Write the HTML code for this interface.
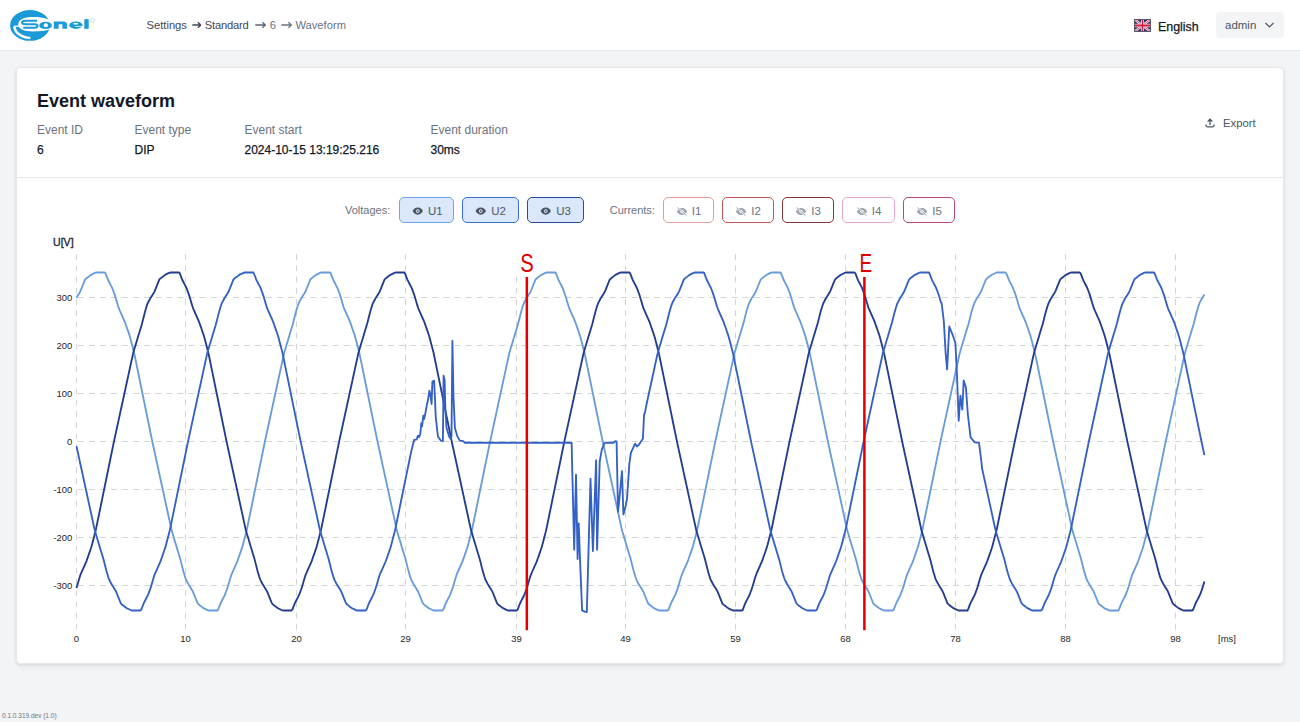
<!DOCTYPE html>
<html><head><meta charset="utf-8"><title>Event waveform</title>
<style>
*{box-sizing:border-box;margin:0;padding:0}
html,body{width:1300px;height:722px;overflow:hidden;background:#f3f4f6;font-family:"Liberation Sans",sans-serif;position:relative}
.a{position:absolute;white-space:nowrap;line-height:1}
#hdr{position:absolute;left:0;top:0;width:1300px;height:51px;background:#fff;border-bottom:1px solid #e5e7eb}
#card{position:absolute;left:16px;top:67px;width:1268px;height:597px;background:#fff;border:1px solid #e5e7eb;border-radius:4px;box-shadow:0 1px 3px rgba(0,0,0,.10),0 3px 6px rgba(0,0,0,.04)}
#sep{position:absolute;left:17px;top:177px;width:1266px;height:1px;background:#e5e7eb}
.bc{font-size:11.5px;color:#4b5563}
.bc .l{color:#6b7280}
.lbl{font-size:12px;color:#6b7280}
.val{font-size:12px;color:#111827;-webkit-text-stroke:0.25px #111827}
.btn{position:absolute;top:197px;height:26px;border-radius:5px;border:1px solid;font-size:11.5px;display:flex;align-items:center;justify-content:center;gap:4px;padding-top:2px}
.vb{background:#dbe8fc;color:#4b5563}
.cb{background:#fff;color:#6b7280}
</style></head>
<body>
<div id="hdr"></div>
<!-- logo -->
<svg class="a" style="left:0;top:0" width="110" height="50" viewBox="0 0 110 50">
  <ellipse cx="30" cy="25.4" rx="19.9" ry="15.4" fill="#1b9ad8"/>
  <path d="M18.2 24.2 C18.2 19.6 24 16.9 33 16.9 C42 16.9 48.5 18.5 50.6 20.8 L50.6 28.8 C48 30.6 42 31.4 33 31.4 C24.5 31.4 18.2 29 18.2 24.2 Z" fill="#fff"/>
  <rect x="14.1" y="25.6" width="6" height="1.25" fill="#fff"/>
  <path d="M14.3 26.3 A15.9 12.4 0 0 0 30.3 37.9" fill="none" stroke="#fff" stroke-width="2.4"/>
  <path d="M37 20.7 H25.4 A3.3 1.75 0 0 0 25.4 24.2 H34.9 A2.55 1.75 0 0 1 34.9 27.7 H23.2" fill="none" stroke="#1b9ad8" stroke-width="2.05"/>
  <ellipse cx="45.6" cy="25.4" rx="6.4" ry="3.65" fill="#1b9ad8"/>
  <ellipse cx="45.85" cy="25.25" rx="2.15" ry="1.9" fill="#fff"/>
  <path d="M53.8 28.8 V21.5 H63.3 Q67 21.5 67 24.6 V28.8 H62.4 V24.2 H58.6 V28.8 Z" fill="#1b9ad8"/>
  <ellipse cx="75.9" cy="25.2" rx="6.6" ry="3.7" fill="#1b9ad8"/>
  <rect x="73.3" y="22.9" width="4.8" height="1.5" rx="0.7" fill="#fff"/>
  <rect x="75.2" y="26.15" width="8" height="0.8" fill="#fff"/>
  <rect x="84.3" y="19.2" width="4.4" height="9.6" fill="#1b9ad8"/>
  <circle cx="92.5" cy="20.4" r="2" fill="none" stroke="#9fd0ee" stroke-width="0.6"/>
</svg>
<div class="a bc" style="left:146.5px;top:19.7px;font-size:11.2px;color:#3f4654">Settings</div>
<svg class="a" style="left:191.6px;top:21px" width="9.4" height="8" viewBox="0 0 9.4 8"><path d="M0.3 4 H8.6 M5.8 1.2 L8.8 4 L5.8 6.8" fill="none" stroke="#3f4654" stroke-width="1.3"/></svg>
<div class="a bc" style="left:204.8px;top:19.7px;font-size:11.2px;color:#3f4654;letter-spacing:-0.2px">Standard</div>
<svg class="a" style="left:255.0px;top:21px" width="11.0" height="8" viewBox="0 0 11.0 8"><path d="M0.3 4 H10.2 M7.4 1.2 L10.4 4 L7.4 6.8" fill="none" stroke="#5b6270" stroke-width="1.3"/></svg>
<div class="a bc" style="left:269.8px;top:19.7px;font-size:11.2px;color:#6b7280">6</div>
<svg class="a" style="left:280.5px;top:21px" width="11.0" height="8" viewBox="0 0 11.0 8"><path d="M0.3 4 H10.2 M7.4 1.2 L10.4 4 L7.4 6.8" fill="none" stroke="#6b7280" stroke-width="1.3"/></svg>
<div class="a bc" style="left:295.4px;top:19.7px;font-size:11.2px;color:#6b7280">Waveform</div>
<!-- flag -->
<svg class="a" style="left:1134px;top:19px" width="17" height="13" viewBox="0 0 60 40" preserveAspectRatio="none">
  <rect width="60" height="40" fill="#1f2a6b"/>
  <path d="M0,0 L60,40 M60,0 L0,40" stroke="#f2dfe6" stroke-width="8"/>
  <path d="M0,0 L60,40 M60,0 L0,40" stroke="#c8304e" stroke-width="2.5"/>
  <path d="M30,0 V40 M0,20 H60" stroke="#f6e3ea" stroke-width="11"/>
  <path d="M30,0 V40 M0,20 H60" stroke="#d01e42" stroke-width="5.5"/>
  <rect x="1.5" y="1.5" width="57" height="37" fill="none" stroke="#5a5a66" stroke-width="3"/>
</svg>
<div class="a" style="left:1158px;top:20.6px;font-size:12.4px;color:#111827;-webkit-text-stroke:0.25px #111827">English</div>
<div class="a" style="left:1216px;top:12px;width:68px;height:26px;background:#f3f4f6;border-radius:4px"></div>
<div class="a" style="left:1225px;top:20.3px;font-size:11.5px;color:#4b5563">admin</div>
<svg class="a" style="left:1264px;top:21px" width="11" height="8" viewBox="0 0 11 8"><path d="M1.5 2 L5.5 6 L9.5 2" fill="none" stroke="#4b5563" stroke-width="1.2"/></svg>

<div id="card"></div>
<div id="sep"></div>
<div class="a" style="left:37px;top:92.3px;font-size:18px;font-weight:bold;color:#111827">Event waveform</div>
<div class="a lbl" style="left:37px;top:123.8px">Event ID</div>
<div class="a lbl" style="left:134.5px;top:123.8px">Event type</div>
<div class="a lbl" style="left:244.5px;top:123.8px">Event start</div>
<div class="a lbl" style="left:430.5px;top:123.8px">Event duration</div>
<div class="a val" style="left:37px;top:143.8px">6</div>
<div class="a val" style="left:134.5px;top:143.8px">DIP</div>
<div class="a val" style="left:244.5px;top:143.8px">2024-10-15 13:19:25.216</div>
<div class="a val" style="left:430.5px;top:143.8px">30ms</div>
<!-- export -->
<svg class="a" style="left:1204.5px;top:117.5px" width="10" height="10" viewBox="0 0 10 10"><path d="M5 7 V1.2 M2.6 3.6 L5 1.2 L7.4 3.6 M1 6.5 V7.3 A1.5 1.5 0 0 0 2.5 8.8 H7.5 A1.5 1.5 0 0 0 9 7.3 V6.5" fill="none" stroke="#4b5563" stroke-width="1.3"/></svg>
<div class="a" style="left:1223px;top:118.2px;font-size:11.3px;color:#4b5563">Export</div>

<!-- toggles -->
<div class="a" style="left:345px;top:204.9px;font-size:11px;color:#6b7280">Voltages:</div>
<div class="btn vb" style="left:399px;width:55px;border-color:#6ea6e8;padding-left:2px;gap:3.5px"><svg width="11.5" height="8.2" viewBox="0 0 22 16" style="margin-right:0.5px"><path d="M11 1 C5.5 1 2 5 1 8 C2 11 5.5 15 11 15 C16.5 15 20 11 21 8 C20 5 16.5 1 11 1 Z" fill="#4b5563"/><circle cx="11" cy="8" r="3.6" fill="#dbe8fc"/><circle cx="11" cy="8" r="1.8" fill="#4b5563"/></svg><span>U1</span></div>
<div class="btn vb" style="left:462px;width:57px;border-color:#3a6fd6"><svg width="11.5" height="8.2" viewBox="0 0 22 16" style="margin-right:0.5px"><path d="M11 1 C5.5 1 2 5 1 8 C2 11 5.5 15 11 15 C16.5 15 20 11 21 8 C20 5 16.5 1 11 1 Z" fill="#4b5563"/><circle cx="11" cy="8" r="3.6" fill="#dbe8fc"/><circle cx="11" cy="8" r="1.8" fill="#4b5563"/></svg><span>U2</span></div>
<div class="btn vb" style="left:527px;width:57px;border-color:#284a9c"><svg width="11.5" height="8.2" viewBox="0 0 22 16" style="margin-right:0.5px"><path d="M11 1 C5.5 1 2 5 1 8 C2 11 5.5 15 11 15 C16.5 15 20 11 21 8 C20 5 16.5 1 11 1 Z" fill="#4b5563"/><circle cx="11" cy="8" r="3.6" fill="#dbe8fc"/><circle cx="11" cy="8" r="1.8" fill="#4b5563"/></svg><span>U3</span></div>
<div class="a" style="left:609.7px;top:204.9px;font-size:11px;color:#6b7280">Currents:</div>
<div class="btn cb" style="left:663px;width:51px;border-color:#e39a9a"><svg width="12" height="9" viewBox="0 0 24 18"><path d="M12 2 C6.5 2 3 6 2 9 C3 12 6.5 16 12 16 C17.5 16 21 12 22 9 C21 6 17.5 2 12 2 Z" fill="#9ca3af"/><circle cx="12" cy="9" r="3.5" fill="#fff"/><path d="M3 1 L21 17" stroke="#fff" stroke-width="3.5"/><path d="M3 1 L21 17" stroke="#9ca3af" stroke-width="2"/></svg><span>I1</span></div>
<div class="btn cb" style="left:722px;width:52px;border-color:#c25555"><svg width="12" height="9" viewBox="0 0 24 18"><path d="M12 2 C6.5 2 3 6 2 9 C3 12 6.5 16 12 16 C17.5 16 21 12 22 9 C21 6 17.5 2 12 2 Z" fill="#9ca3af"/><circle cx="12" cy="9" r="3.5" fill="#fff"/><path d="M3 1 L21 17" stroke="#fff" stroke-width="3.5"/><path d="M3 1 L21 17" stroke="#9ca3af" stroke-width="2"/></svg><span>I2</span></div>
<div class="btn cb" style="left:782px;width:52px;border-color:#7f3535"><svg width="12" height="9" viewBox="0 0 24 18"><path d="M12 2 C6.5 2 3 6 2 9 C3 12 6.5 16 12 16 C17.5 16 21 12 22 9 C21 6 17.5 2 12 2 Z" fill="#9ca3af"/><circle cx="12" cy="9" r="3.5" fill="#fff"/><path d="M3 1 L21 17" stroke="#fff" stroke-width="3.5"/><path d="M3 1 L21 17" stroke="#9ca3af" stroke-width="2"/></svg><span>I3</span></div>
<div class="btn cb" style="left:842px;width:53px;border-color:#e9a6cc"><svg width="12" height="9" viewBox="0 0 24 18"><path d="M12 2 C6.5 2 3 6 2 9 C3 12 6.5 16 12 16 C17.5 16 21 12 22 9 C21 6 17.5 2 12 2 Z" fill="#9ca3af"/><circle cx="12" cy="9" r="3.5" fill="#fff"/><path d="M3 1 L21 17" stroke="#fff" stroke-width="3.5"/><path d="M3 1 L21 17" stroke="#9ca3af" stroke-width="2"/></svg><span>I4</span></div>
<div class="btn cb" style="left:903px;width:52px;border-color:#b9467f"><svg width="12" height="9" viewBox="0 0 24 18"><path d="M12 2 C6.5 2 3 6 2 9 C3 12 6.5 16 12 16 C17.5 16 21 12 22 9 C21 6 17.5 2 12 2 Z" fill="#9ca3af"/><circle cx="12" cy="9" r="3.5" fill="#fff"/><path d="M3 1 L21 17" stroke="#fff" stroke-width="3.5"/><path d="M3 1 L21 17" stroke="#9ca3af" stroke-width="2"/></svg><span>I5</span></div>

<svg width="1300" height="722" viewBox="0 0 1300 722" style="position:absolute;left:0;top:0">
<line x1="76.5" y1="254.2" x2="76.5" y2="629.8" stroke="#d4d4d4" stroke-width="1" stroke-dasharray="5.9 5.3"/>
<line x1="185.5" y1="254.2" x2="185.5" y2="629.8" stroke="#d4d4d4" stroke-width="1" stroke-dasharray="5.9 5.3"/>
<line x1="296.5" y1="254.2" x2="296.5" y2="629.8" stroke="#d4d4d4" stroke-width="1" stroke-dasharray="5.9 5.3"/>
<line x1="405.5" y1="254.2" x2="405.5" y2="629.8" stroke="#d4d4d4" stroke-width="1" stroke-dasharray="5.9 5.3"/>
<line x1="516.5" y1="254.2" x2="516.5" y2="629.8" stroke="#d4d4d4" stroke-width="1" stroke-dasharray="5.9 5.3"/>
<line x1="625.5" y1="254.2" x2="625.5" y2="629.8" stroke="#d4d4d4" stroke-width="1" stroke-dasharray="5.9 5.3"/>
<line x1="735.5" y1="254.2" x2="735.5" y2="629.8" stroke="#d4d4d4" stroke-width="1" stroke-dasharray="5.9 5.3"/>
<line x1="845.5" y1="254.2" x2="845.5" y2="629.8" stroke="#d4d4d4" stroke-width="1" stroke-dasharray="5.9 5.3"/>
<line x1="955.5" y1="254.2" x2="955.5" y2="629.8" stroke="#d4d4d4" stroke-width="1" stroke-dasharray="5.9 5.3"/>
<line x1="1065.5" y1="254.2" x2="1065.5" y2="629.8" stroke="#d4d4d4" stroke-width="1" stroke-dasharray="5.9 5.3"/>
<line x1="1175.5" y1="254.2" x2="1175.5" y2="629.8" stroke="#d4d4d4" stroke-width="1" stroke-dasharray="5.9 5.3"/>
<line x1="77.8" y1="297.5" x2="1203" y2="297.5" stroke="#d4d4d4" stroke-width="1" stroke-dasharray="6 5.08"/>
<line x1="77.8" y1="345.5" x2="1203" y2="345.5" stroke="#d4d4d4" stroke-width="1" stroke-dasharray="6 5.08"/>
<line x1="77.8" y1="393.5" x2="1203" y2="393.5" stroke="#d4d4d4" stroke-width="1" stroke-dasharray="6 5.08"/>
<line x1="77.8" y1="441.5" x2="1203" y2="441.5" stroke="#d4d4d4" stroke-width="1" stroke-dasharray="6 5.08"/>
<line x1="77.8" y1="489.5" x2="1203" y2="489.5" stroke="#d4d4d4" stroke-width="1" stroke-dasharray="6 5.08"/>
<line x1="77.8" y1="537.5" x2="1203" y2="537.5" stroke="#d4d4d4" stroke-width="1" stroke-dasharray="6 5.08"/>
<line x1="77.8" y1="585.5" x2="1203" y2="585.5" stroke="#d4d4d4" stroke-width="1" stroke-dasharray="6 5.08"/>
<rect x="513" y="252" width="28" height="24.6" fill="#fff"/>
<polyline fill="none" stroke="#689dd9" stroke-width="1.85" stroke-linejoin="round" points="76.5,297.7 77.5,296.1 78.5,294.5 79.5,292.9 80.5,291.0 81.5,288.5 82.5,286.0 83.5,283.5 84.5,281.0 85.5,279.0 86.5,278.2 87.5,277.5 88.5,276.7 89.5,275.9 90.5,275.1 91.5,274.6 92.5,274.1 93.5,273.6 94.5,273.1 95.5,272.6 96.5,272.5 97.5,272.5 98.5,272.5 99.5,272.5 100.5,272.5 101.5,272.5 102.5,272.5 103.5,272.5 104.5,272.5 105.5,273.3 106.5,275.9 107.5,278.4 108.5,280.8 109.5,282.7 110.5,284.6 111.5,286.6 112.5,288.7 113.5,291.4 114.5,294.1 115.5,297.3 116.5,300.7 117.5,304.0 118.5,307.4 119.5,309.9 120.5,312.1 121.5,314.3 122.5,316.6 123.5,318.8 124.5,321.1 125.5,323.8 126.5,326.7 127.5,329.6 128.5,332.4 129.5,335.3 130.5,339.0 131.5,342.8 132.5,346.6 133.5,350.4 134.5,354.7 135.5,359.5 136.5,364.4 137.5,369.3 138.5,374.2 139.5,379.0 140.5,383.9 141.5,388.8 142.5,393.7 143.5,398.6 144.5,403.4 145.5,408.3 146.5,413.2 147.5,418.1 148.5,423.0 149.5,427.8 150.5,432.7 151.5,437.6 152.5,442.4 153.5,447.0 154.5,451.6 155.5,456.2 156.5,460.8 157.5,465.4 158.5,470.0 159.5,474.6 160.5,479.2 161.5,483.8 162.5,488.4 163.5,493.0 164.5,497.6 165.5,502.2 166.5,506.8 167.5,511.4 168.5,516.0 169.5,520.6 170.5,525.2 171.5,529.8 172.5,533.3 173.5,536.6 174.5,539.9 175.5,543.3 176.5,546.6 177.5,549.9 178.5,553.2 179.5,556.5 180.5,559.9 181.5,563.9 182.5,567.9 183.5,571.8 184.5,575.0 185.5,578.3 186.5,580.6 187.5,582.5 188.5,584.4 189.5,586.0 190.5,587.6 191.5,589.2 192.5,590.8 193.5,593.0 194.5,595.5 195.5,598.0 196.5,600.5 197.5,603.0 198.5,604.3 199.5,605.1 200.5,605.9 201.5,606.6 202.5,607.4 203.5,608.2 204.5,608.6 205.5,609.1 206.5,609.6 207.5,610.1 208.5,610.5 209.5,610.5 210.5,610.5 211.5,610.5 212.5,610.5 213.5,610.5 214.5,610.5 215.5,610.5 216.5,610.5 217.5,610.5 218.5,608.7 219.5,606.1 220.5,603.5 221.5,601.4 222.5,599.5 223.5,597.6 224.5,595.7 225.5,593.2 226.5,590.5 227.5,587.7 228.5,584.3 229.5,581.0 230.5,577.6 231.5,574.5 232.5,572.3 233.5,570.0 234.5,567.8 235.5,565.5 236.5,563.3 237.5,560.9 238.5,558.0 239.5,555.2 240.5,552.3 241.5,549.4 242.5,546.3 243.5,542.5 244.5,538.7 245.5,534.9 246.5,531.1 247.5,526.4 248.5,521.5 249.5,516.6 250.5,511.8 251.5,506.9 252.5,502.0 253.5,497.1 254.5,492.2 255.5,487.4 256.5,482.5 257.5,477.6 258.5,472.7 259.5,467.8 260.5,463.0 261.5,458.1 262.5,453.2 263.5,448.3 264.5,443.5 265.5,438.7 266.5,434.1 267.5,429.5 268.5,424.9 269.5,420.3 270.5,415.7 271.5,411.1 272.5,406.5 273.5,401.9 274.5,397.3 275.5,392.7 276.5,388.1 277.5,383.5 278.5,378.9 279.5,374.3 280.5,369.7 281.5,365.1 282.5,360.5 283.5,355.9 284.5,351.7 285.5,348.4 286.5,345.1 287.5,341.7 288.5,338.4 289.5,335.1 290.5,331.8 291.5,328.5 292.5,325.2 293.5,321.5 294.5,317.5 295.5,313.5 296.5,309.9 297.5,306.7 298.5,303.5 299.5,301.6 300.5,299.7 301.5,298.0 302.5,296.4 303.5,294.8 304.5,293.2 305.5,291.5 306.5,289.0 307.5,286.5 308.5,284.0 309.5,281.5 310.5,279.2 311.5,278.4 312.5,277.6 313.5,276.8 314.5,276.0 315.5,275.3 316.5,274.7 317.5,274.2 318.5,273.7 319.5,273.2 320.5,272.7 321.5,272.5 322.5,272.5 323.5,272.5 324.5,272.5 325.5,272.5 326.5,272.5 327.5,272.5 328.5,272.5 329.5,272.5 330.5,272.8 331.5,275.4 332.5,277.9 333.5,280.4 334.5,282.3 335.5,284.3 336.5,286.2 337.5,288.2 338.5,290.9 339.5,293.5 340.5,296.6 341.5,300.0 342.5,303.4 343.5,306.7 344.5,309.4 345.5,311.6 346.5,313.9 347.5,316.1 348.5,318.4 349.5,320.6 350.5,323.2 351.5,326.1 352.5,329.0 353.5,331.9 354.5,334.7 355.5,338.2 356.5,342.0 357.5,345.8 358.5,349.6 359.5,353.7 360.5,358.6 361.5,363.4 362.5,368.3 363.5,373.2 364.5,378.1 365.5,383.0 366.5,387.8 367.5,392.7 368.5,397.6 369.5,402.5 370.5,407.3 371.5,412.2 372.5,417.1 373.5,422.0 374.5,426.9 375.5,431.7 376.5,436.6 377.5,441.5 378.5,446.1 379.5,450.7 380.5,455.3 381.5,459.9 382.5,464.5 383.5,469.1 384.5,473.7 385.5,478.3 386.5,482.9 387.5,487.5 388.5,492.1 389.5,496.7 390.5,501.3 391.5,505.9 392.5,510.5 393.5,515.1 394.5,519.7 395.5,524.3 396.5,528.9 397.5,532.6 398.5,535.9 399.5,539.3 400.5,542.6 401.5,545.9 402.5,549.2 403.5,552.5 404.5,555.8 405.5,559.1 406.5,563.1 407.5,567.1 408.5,571.1 409.5,574.4 410.5,577.6 411.5,580.2 412.5,582.1 413.5,584.1 414.5,585.7 415.5,587.3 416.5,588.9 417.5,590.5 418.5,592.5 419.5,595.0 420.5,597.5 421.5,600.0 422.5,602.5 423.5,604.1 424.5,604.9 425.5,605.7 426.5,606.5 427.5,607.3 428.5,608.1 429.5,608.5 430.5,609.0 431.5,609.5 432.5,610.0 433.5,610.5 434.5,610.5 435.5,610.5 436.5,610.5 437.5,610.5 438.5,610.5 439.5,610.5 440.5,610.5 441.5,610.5 442.5,610.5 443.5,609.2 444.5,606.6 445.5,604.1 446.5,601.8 447.5,599.9 448.5,598.0 449.5,596.1 450.5,593.8 451.5,591.1 452.5,588.4 453.5,585.0 454.5,581.7 455.5,578.3 456.5,574.9 457.5,572.7 458.5,570.5 459.5,568.2 460.5,566.0 461.5,563.7 462.5,561.5 463.5,558.6 464.5,555.7 465.5,552.9 466.5,550.0 467.5,547.1 468.5,543.3 469.5,539.5 470.5,535.6 471.5,531.8 472.5,527.4 473.5,522.5 474.5,517.6 475.5,512.7 476.5,507.9 477.5,503.0 478.5,498.1 479.5,493.2 480.5,488.3 481.5,483.5 482.5,478.6 483.5,473.7 484.5,468.8 485.5,463.9 486.5,459.1 487.5,454.2 488.5,449.3 489.5,444.4 490.5,439.7 491.5,435.1 492.5,430.5 493.5,425.9 494.5,421.3 495.5,416.7 496.5,412.1 497.5,407.5 498.5,402.9 499.5,398.3 500.5,393.6 501.5,389.0 502.5,384.4 503.5,379.8 504.5,375.2 505.5,370.6 506.5,366.0 507.5,361.4 508.5,356.8 509.5,352.4 510.5,349.0 511.5,345.7 512.5,342.4 513.5,339.1 514.5,335.8 515.5,332.5 516.5,329.2 517.5,325.9 518.5,322.3 519.5,318.3 520.5,314.3 521.5,310.6 522.5,307.3 523.5,304.1 524.5,302.0 525.5,300.1 526.5,298.3 527.5,296.7 528.5,295.1 529.5,293.5 530.5,291.9 531.5,289.5 532.5,287.0 533.5,284.5 534.5,282.0 535.5,279.5 536.5,278.6 537.5,277.8 538.5,277.0 539.5,276.2 540.5,275.4 541.5,274.7 542.5,274.3 543.5,273.8 544.5,273.3 545.5,272.8 546.5,272.5 547.5,272.5 548.5,272.5 549.5,272.5 550.5,272.5 551.5,272.5 552.5,272.5 553.5,272.5 554.5,272.5 555.5,272.5 556.5,274.8 557.5,277.4 558.5,280.0 559.5,281.9 560.5,283.9 561.5,285.8 562.5,287.7 563.5,290.3 564.5,293.0 565.5,296.0 566.5,299.3 567.5,302.7 568.5,306.0 569.5,309.0 570.5,311.2 571.5,313.4 572.5,315.7 573.5,317.9 574.5,320.2 575.5,322.7 576.5,325.5 577.5,328.4 578.5,331.3 579.5,334.2 580.5,337.4 581.5,341.2 582.5,345.1 583.5,348.9 584.5,352.7 585.5,357.6 586.5,362.5 587.5,367.3 588.5,372.2 589.5,377.1 590.5,382.0 591.5,386.9 592.5,391.7 593.5,396.6 594.5,401.5 595.5,406.4 596.5,411.2 597.5,416.1 598.5,421.0 599.5,425.9 600.5,430.8 601.5,435.6 602.5,440.5 603.5,445.2 604.5,449.8 605.5,454.4 606.5,459.0 607.5,463.6 608.5,468.2 609.5,472.8 610.5,477.4 611.5,482.0 612.5,486.6 613.5,491.2 614.5,495.8 615.5,500.4 616.5,505.0 617.5,509.6 618.5,514.2 619.5,518.8 620.5,523.4 621.5,528.0 622.5,532.0 623.5,535.3 624.5,538.6 625.5,541.9 626.5,545.3 627.5,548.6 628.5,551.9 629.5,555.2 630.5,558.4 631.5,562.3 632.5,566.3 633.5,570.3 634.5,573.7 635.5,577.0 636.5,579.8 637.5,581.8 638.5,583.7 639.5,585.3 640.5,586.9 641.5,588.5 642.5,590.1 643.5,592.0 644.5,594.5 645.5,597.0 646.5,599.5 647.5,602.0 648.5,604.0 649.5,604.8 650.5,605.5 651.5,606.3 652.5,607.1 653.5,607.9 654.5,608.4 655.5,608.9 656.5,609.4 657.5,609.9 658.5,610.4 659.5,610.5 660.5,610.5 661.5,610.5 662.5,610.5 663.5,610.5 664.5,610.5 665.5,610.5 666.5,610.5 667.5,610.5 668.5,609.7 669.5,607.1 670.5,604.6 671.5,602.2 672.5,600.3 673.5,598.4 674.5,596.4 675.5,594.3 676.5,591.6 677.5,588.9 678.5,585.7 679.5,582.3 680.5,579.0 681.5,575.6 682.5,573.1 683.5,570.9 684.5,568.7 685.5,566.4 686.5,564.2 687.5,561.9 688.5,559.2 689.5,556.3 690.5,553.4 691.5,550.6 692.5,547.7 693.5,544.0 694.5,540.2 695.5,536.4 696.5,532.6 697.5,528.3 698.5,523.5 699.5,518.6 700.5,513.7 701.5,508.8 702.5,504.0 703.5,499.1 704.5,494.2 705.5,489.3 706.5,484.4 707.5,479.6 708.5,474.7 709.5,469.8 710.5,464.9 711.5,460.0 712.5,455.2 713.5,450.3 714.5,445.4 715.5,440.6 716.5,436.0 717.5,431.4 718.5,426.8 719.5,422.2 720.5,417.6 721.5,413.0 722.5,408.4 723.5,403.8 724.5,399.2 725.5,394.6 726.5,390.0 727.5,385.4 728.5,380.8 729.5,376.2 730.5,371.6 731.5,367.0 732.5,362.4 733.5,357.8 734.5,353.2 735.5,349.7 736.5,346.4 737.5,343.1 738.5,339.7 739.5,336.4 740.5,333.1 741.5,329.8 742.5,326.5 743.5,323.1 744.5,319.1 745.5,315.1 746.5,311.2 747.5,308.0 748.5,304.7 749.5,302.4 750.5,300.5 751.5,298.6 752.5,297.0 753.5,295.4 754.5,293.8 755.5,292.2 756.5,290.0 757.5,287.5 758.5,285.0 759.5,282.5 760.5,280.0 761.5,278.7 762.5,277.9 763.5,277.1 764.5,276.4 765.5,275.6 766.5,274.8 767.5,274.4 768.5,273.9 769.5,273.4 770.5,272.9 771.5,272.5 772.5,272.5 773.5,272.5 774.5,272.5 775.5,272.5 776.5,272.5 777.5,272.5 778.5,272.5 779.5,272.5 780.5,272.5 781.5,274.3 782.5,276.9 783.5,279.5 784.5,281.6 785.5,283.5 786.5,285.4 787.5,287.3 788.5,289.8 789.5,292.5 790.5,295.3 791.5,298.7 792.5,302.0 793.5,305.4 794.5,308.5 795.5,310.7 796.5,313.0 797.5,315.2 798.5,317.5 799.5,319.7 800.5,322.1 801.5,325.0 802.5,327.8 803.5,330.7 804.5,333.6 805.5,336.7 806.5,340.5 807.5,344.3 808.5,348.1 809.5,351.9 810.5,356.6 811.5,361.5 812.5,366.4 813.5,371.2 814.5,376.1 815.5,381.0 816.5,385.9 817.5,390.8 818.5,395.6 819.5,400.5 820.5,405.4 821.5,410.3 822.5,415.2 823.5,420.0 824.5,424.9 825.5,429.8 826.5,434.7 827.5,439.5 828.5,444.3 829.5,448.9 830.5,453.5 831.5,458.1 832.5,462.7 833.5,467.3 834.5,471.9 835.5,476.5 836.5,481.1 837.5,485.7 838.5,490.3 839.5,494.9 840.5,499.5 841.5,504.1 842.5,508.7 843.5,513.3 844.5,517.9 845.5,522.5 846.5,527.1 847.5,531.3 848.5,534.6 849.5,537.9 850.5,541.3 851.5,544.6 852.5,547.9 853.5,551.2 854.5,554.5 855.5,557.8 856.5,561.5 857.5,565.5 858.5,569.5 859.5,573.1 860.5,576.3 861.5,579.5 862.5,581.4 863.5,583.3 864.5,585.0 865.5,586.6 866.5,588.2 867.5,589.8 868.5,591.5 869.5,594.0 870.5,596.5 871.5,599.0 872.5,601.5 873.5,603.8 874.5,604.6 875.5,605.4 876.5,606.2 877.5,607.0 878.5,607.7 879.5,608.3 880.5,608.8 881.5,609.3 882.5,609.8 883.5,610.3 884.5,610.5 885.5,610.5 886.5,610.5 887.5,610.5 888.5,610.5 889.5,610.5 890.5,610.5 891.5,610.5 892.5,610.5 893.5,610.2 894.5,607.6 895.5,605.1 896.5,602.6 897.5,600.7 898.5,598.7 899.5,596.8 900.5,594.8 901.5,592.1 902.5,589.5 903.5,586.4 904.5,583.0 905.5,579.6 906.5,576.3 907.5,573.6 908.5,571.4 909.5,569.1 910.5,566.9 911.5,564.6 912.5,562.4 913.5,559.8 914.5,556.9 915.5,554.0 916.5,551.1 917.5,548.3 918.5,544.8 919.5,541.0 920.5,537.2 921.5,533.4 922.5,529.3 923.5,524.4 924.5,519.6 925.5,514.7 926.5,509.8 927.5,504.9 928.5,500.0 929.5,495.2 930.5,490.3 931.5,485.4 932.5,480.5 933.5,475.7 934.5,470.8 935.5,465.9 936.5,461.0 937.5,456.1 938.5,451.3 939.5,446.4 940.5,441.5 941.5,436.9 942.5,432.3 943.5,427.7 944.5,423.1 945.5,418.5 946.5,413.9 947.5,409.3 948.5,404.7 949.5,400.1 950.5,395.5 951.5,390.9 952.5,386.3 953.5,381.7 954.5,377.1 955.5,372.5 956.5,367.9 957.5,363.3 958.5,358.7 959.5,354.1 960.5,350.4 961.5,347.1 962.5,343.7 963.5,340.4 964.5,337.1 965.5,333.8 966.5,330.5 967.5,327.2 968.5,323.9 969.5,319.9 970.5,315.9 971.5,311.9 972.5,308.6 973.5,305.4 974.5,302.8 975.5,300.9 976.5,298.9 977.5,297.3 978.5,295.7 979.5,294.1 980.5,292.5 981.5,290.5 982.5,288.0 983.5,285.5 984.5,283.0 985.5,280.5 986.5,278.9 987.5,278.1 988.5,277.3 989.5,276.5 990.5,275.7 991.5,274.9 992.5,274.5 993.5,274.0 994.5,273.5 995.5,273.0 996.5,272.5 997.5,272.5 998.5,272.5 999.5,272.5 1000.5,272.5 1001.5,272.5 1002.5,272.5 1003.5,272.5 1004.5,272.5 1005.5,272.5 1006.5,273.8 1007.5,276.4 1008.5,278.9 1009.5,281.2 1010.5,283.1 1011.5,285.0 1012.5,286.9 1013.5,289.2 1014.5,291.9 1015.5,294.6 1016.5,298.0 1017.5,301.3 1018.5,304.7 1019.5,308.1 1020.5,310.3 1021.5,312.5 1022.5,314.8 1023.5,317.0 1024.5,319.3 1025.5,321.5 1026.5,324.4 1027.5,327.3 1028.5,330.1 1029.5,333.0 1030.5,335.9 1031.5,339.7 1032.5,343.5 1033.5,347.4 1034.5,351.2 1035.5,355.6 1036.5,360.5 1037.5,365.4 1038.5,370.3 1039.5,375.1 1040.5,380.0 1041.5,384.9 1042.5,389.8 1043.5,394.7 1044.5,399.5 1045.5,404.4 1046.5,409.3 1047.5,414.2 1048.5,419.1 1049.5,423.9 1050.5,428.8 1051.5,433.7 1052.5,438.6 1053.5,443.3 1054.5,447.9 1055.5,452.5 1056.5,457.1 1057.5,461.7 1058.5,466.3 1059.5,470.9 1060.5,475.5 1061.5,480.1 1062.5,484.7 1063.5,489.4 1064.5,494.0 1065.5,498.6 1066.5,503.2 1067.5,507.8 1068.5,512.4 1069.5,517.0 1070.5,521.6 1071.5,526.2 1072.5,530.6 1073.5,534.0 1074.5,537.3 1075.5,540.6 1076.5,543.9 1077.5,547.2 1078.5,550.5 1079.5,553.8 1080.5,557.1 1081.5,560.7 1082.5,564.7 1083.5,568.7 1084.5,572.4 1085.5,575.7 1086.5,578.9 1087.5,581.0 1088.5,582.9 1089.5,584.7 1090.5,586.3 1091.5,587.9 1092.5,589.5 1093.5,591.1 1094.5,593.5 1095.5,596.0 1096.5,598.5 1097.5,601.0 1098.5,603.5 1099.5,604.4 1100.5,605.2 1101.5,606.0 1102.5,606.8 1103.5,607.6 1104.5,608.3 1105.5,608.7 1106.5,609.2 1107.5,609.7 1108.5,610.2 1109.5,610.5 1110.5,610.5 1111.5,610.5 1112.5,610.5 1113.5,610.5 1114.5,610.5 1115.5,610.5 1116.5,610.5 1117.5,610.5 1118.5,610.5 1119.5,608.2 1120.5,605.6 1121.5,603.0 1122.5,601.1 1123.5,599.1 1124.5,597.2 1125.5,595.3 1126.5,592.7 1127.5,590.0 1128.5,587.0 1129.5,583.7 1130.5,580.3 1131.5,577.0 1132.5,574.0 1133.5,571.8 1134.5,569.6 1135.5,567.3 1136.5,565.1 1137.5,562.8 1138.5,560.3 1139.5,557.5 1140.5,554.6 1141.5,551.7 1142.5,548.8 1143.5,545.6 1144.5,541.8 1145.5,537.9 1146.5,534.1 1147.5,530.3 1148.5,525.4 1149.5,520.5 1150.5,515.7 1151.5,510.8 1152.5,505.9 1153.5,501.0 1154.5,496.1 1155.5,491.3 1156.5,486.4 1157.5,481.5 1158.5,476.6 1159.5,471.8 1160.5,466.9 1161.5,462.0 1162.5,457.1 1163.5,452.2 1164.5,447.4 1165.5,442.5 1166.5,437.8 1167.5,433.2 1168.5,428.6 1169.5,424.0 1170.5,419.4 1171.5,414.8 1172.5,410.2 1173.5,405.6 1174.5,401.0 1175.5,396.4 1176.5,391.8 1177.5,387.2 1178.5,382.6 1179.5,378.0 1180.5,373.4 1181.5,368.8 1182.5,364.2 1183.5,359.6 1184.5,355.0 1185.5,351.0 1186.5,347.7 1187.5,344.4 1188.5,341.1 1189.5,337.7 1190.5,334.4 1191.5,331.1 1192.5,327.8 1193.5,324.6 1194.5,320.7 1195.5,316.7 1196.5,312.7 1197.5,309.3 1198.5,306.0 1199.5,303.2 1200.5,301.2 1201.5,299.3 1202.5,297.7 1203.5,296.1 1204.4,294.6"/>
<polyline fill="none" stroke="#223d90" stroke-width="1.85" stroke-linejoin="round" points="76.5,587.9 77.5,584.5 78.5,581.2 79.5,577.8 80.5,574.6 81.5,572.4 82.5,570.1 83.5,567.9 84.5,565.6 85.5,563.4 86.5,561.1 87.5,558.2 88.5,555.3 89.5,552.4 90.5,549.5 91.5,546.5 92.5,542.7 93.5,538.9 94.5,535.1 95.5,531.3 96.5,526.6 97.5,521.8 98.5,516.9 99.5,512.0 100.5,507.1 101.5,502.2 102.5,497.4 103.5,492.5 104.5,487.6 105.5,482.7 106.5,477.8 107.5,473.0 108.5,468.1 109.5,463.2 110.5,458.3 111.5,453.5 112.5,448.6 113.5,443.7 114.5,439.0 115.5,434.4 116.5,429.8 117.5,425.2 118.5,420.6 119.5,416.0 120.5,411.4 121.5,406.8 122.5,402.2 123.5,397.6 124.5,393.0 125.5,388.4 126.5,383.8 127.5,379.2 128.5,374.6 129.5,370.0 130.5,365.4 131.5,360.8 132.5,356.2 133.5,351.9 134.5,348.5 135.5,345.2 136.5,341.9 137.5,338.6 138.5,335.3 139.5,332.0 140.5,328.7 141.5,325.4 142.5,321.7 143.5,317.7 144.5,313.7 145.5,310.1 146.5,306.8 147.5,303.6 148.5,301.7 149.5,299.8 150.5,298.1 151.5,296.5 152.5,294.9 153.5,293.3 154.5,291.6 155.5,289.1 156.5,286.6 157.5,284.1 158.5,281.6 159.5,279.2 160.5,278.4 161.5,277.6 162.5,276.9 163.5,276.1 164.5,275.3 165.5,274.7 166.5,274.2 167.5,273.7 168.5,273.2 169.5,272.8 170.5,272.5 171.5,272.5 172.5,272.5 173.5,272.5 174.5,272.5 175.5,272.5 176.5,272.5 177.5,272.5 178.5,272.5 179.5,272.7 180.5,275.2 181.5,277.8 182.5,280.3 183.5,282.2 184.5,284.2 185.5,286.1 186.5,288.0 187.5,290.7 188.5,293.4 189.5,296.5 190.5,299.8 191.5,303.2 192.5,306.5 193.5,309.3 194.5,311.5 195.5,313.8 196.5,316.0 197.5,318.3 198.5,320.5 199.5,323.1 200.5,326.0 201.5,328.8 202.5,331.7 203.5,334.6 204.5,338.0 205.5,341.8 206.5,345.6 207.5,349.5 208.5,353.4 209.5,358.3 210.5,363.2 211.5,368.1 212.5,372.9 213.5,377.8 214.5,382.7 215.5,387.6 216.5,392.5 217.5,397.3 218.5,402.2 219.5,407.1 220.5,412.0 221.5,416.9 222.5,421.7 223.5,426.6 224.5,431.5 225.5,436.4 226.5,441.3 227.5,445.9 228.5,450.5 229.5,455.1 230.5,459.7 231.5,464.3 232.5,468.9 233.5,473.5 234.5,478.1 235.5,482.7 236.5,487.3 237.5,491.9 238.5,496.5 239.5,501.1 240.5,505.7 241.5,510.3 242.5,514.9 243.5,519.5 244.5,524.1 245.5,528.7 246.5,532.5 247.5,535.8 248.5,539.1 249.5,542.4 250.5,545.8 251.5,549.1 252.5,552.4 253.5,555.6 254.5,558.9 255.5,562.9 256.5,566.9 257.5,570.9 258.5,574.2 259.5,577.5 260.5,580.1 261.5,582.0 262.5,584.0 263.5,585.6 264.5,587.2 265.5,588.8 266.5,590.4 267.5,592.4 268.5,594.9 269.5,597.4 270.5,599.9 271.5,602.4 272.5,604.1 273.5,604.9 274.5,605.7 275.5,606.4 276.5,607.2 277.5,608.0 278.5,608.5 279.5,609.0 280.5,609.5 281.5,610.0 282.5,610.4 283.5,610.5 284.5,610.5 285.5,610.5 286.5,610.5 287.5,610.5 288.5,610.5 289.5,610.5 290.5,610.5 291.5,610.5 292.5,609.3 293.5,606.7 294.5,604.2 295.5,601.9 296.5,600.0 297.5,598.1 298.5,596.2 299.5,593.9 300.5,591.2 301.5,588.5 302.5,585.2 303.5,581.8 304.5,578.5 305.5,575.1 306.5,572.8 307.5,570.6 308.5,568.3 309.5,566.1 310.5,563.9 311.5,561.6 312.5,558.8 313.5,555.9 314.5,553.0 315.5,550.1 316.5,547.2 317.5,543.5 318.5,539.7 319.5,535.8 320.5,532.0 321.5,527.6 322.5,522.7 323.5,517.9 324.5,513.0 325.5,508.1 326.5,503.2 327.5,498.3 328.5,493.5 329.5,488.6 330.5,483.7 331.5,478.8 332.5,473.9 333.5,469.1 334.5,464.2 335.5,459.3 336.5,454.4 337.5,449.6 338.5,444.7 339.5,439.9 340.5,435.3 341.5,430.7 342.5,426.1 343.5,421.5 344.5,416.9 345.5,412.3 346.5,407.7 347.5,403.1 348.5,398.5 349.5,393.9 350.5,389.3 351.5,384.7 352.5,380.1 353.5,375.5 354.5,370.9 355.5,366.3 356.5,361.7 357.5,357.1 358.5,352.5 359.5,349.2 360.5,345.9 361.5,342.6 362.5,339.2 363.5,335.9 364.5,332.6 365.5,329.3 366.5,326.0 367.5,322.5 368.5,318.5 369.5,314.5 370.5,310.8 371.5,307.5 372.5,304.2 373.5,302.1 374.5,300.2 375.5,298.4 376.5,296.8 377.5,295.2 378.5,293.6 379.5,292.0 380.5,289.6 381.5,287.1 382.5,284.6 383.5,282.1 384.5,279.6 385.5,278.6 386.5,277.8 387.5,277.0 388.5,276.2 389.5,275.5 390.5,274.8 391.5,274.3 392.5,273.8 393.5,273.3 394.5,272.9 395.5,272.5 396.5,272.5 397.5,272.5 398.5,272.5 399.5,272.5 400.5,272.5 401.5,272.5 402.5,272.5 403.5,272.5 404.5,272.5 405.5,274.7 406.5,277.3 407.5,279.8 408.5,281.9 409.5,283.8 410.5,285.7 411.5,287.6 412.5,290.2 413.5,292.9 414.5,295.8 415.5,299.2 416.5,302.5 417.5,305.9 418.5,308.8 419.5,311.1 420.5,313.3 421.5,315.6 422.5,317.8 423.5,320.0 424.5,322.5 425.5,325.4 426.5,328.3 427.5,331.1 428.5,334.0 429.5,337.2 430.5,341.1 431.5,344.9 432.5,348.7 433.5,352.5 434.5,357.3 435.5,362.2 436.5,367.1 437.5,372.0 438.5,376.9 439.5,381.7 440.5,386.6 441.5,391.5 442.5,396.4 443.5,401.2 444.5,406.1 445.5,411.0 446.5,415.9 447.5,420.8 448.5,425.6 449.5,430.5 450.5,435.4 451.5,440.3 452.5,445.0 453.5,449.6 454.5,454.2 455.5,458.8 456.5,463.4 457.5,468.0 458.5,472.6 459.5,477.2 460.5,481.8 461.5,486.4 462.5,491.0 463.5,495.6 464.5,500.2 465.5,504.8 466.5,509.4 467.5,514.0 468.5,518.6 469.5,523.2 470.5,527.8 471.5,531.8 472.5,535.1 473.5,538.4 474.5,541.8 475.5,545.1 476.5,548.4 477.5,551.7 478.5,555.0 479.5,558.3 480.5,562.1 481.5,566.1 482.5,570.1 483.5,573.5 484.5,576.8 485.5,579.7 486.5,581.7 487.5,583.6 488.5,585.3 489.5,586.9 490.5,588.5 491.5,590.1 492.5,591.9 493.5,594.4 494.5,596.9 495.5,599.4 496.5,601.9 497.5,603.9 498.5,604.7 499.5,605.5 500.5,606.3 501.5,607.1 502.5,607.9 503.5,608.4 504.5,608.9 505.5,609.4 506.5,609.9 507.5,610.3 508.5,610.5 509.5,610.5 510.5,610.5 511.5,610.5 512.5,610.5 513.5,610.5 514.5,610.5 515.5,610.5 516.5,610.5 517.5,609.8 518.5,607.3 519.5,604.7 520.5,602.3 521.5,600.4 522.5,598.5 523.5,596.5 524.5,594.4 525.5,591.7 526.5,589.1 527.5,585.9 528.5,582.5 529.5,579.1 530.5,575.8 531.5,573.3 532.5,571.0 533.5,568.8 534.5,566.5 535.5,564.3 536.5,562.1 537.5,559.3 538.5,556.5 539.5,553.6 540.5,550.7 541.5,547.8 542.5,544.2 543.5,540.4 544.5,536.6 545.5,532.8 546.5,528.6 547.5,523.7 548.5,518.8 549.5,514.0 550.5,509.1 551.5,504.2 552.5,499.3 553.5,494.4 554.5,489.6 555.5,484.7 556.5,479.8 557.5,474.9 558.5,470.0 559.5,465.2 560.5,460.3 561.5,455.4 562.5,450.5 563.5,445.6 564.5,440.8 565.5,436.2 566.5,431.6 567.5,427.0 568.5,422.4 569.5,417.8 570.5,413.2 571.5,408.6 572.5,404.0 573.5,399.4 574.5,394.8 575.5,390.2 576.5,385.6 577.5,381.0 578.5,376.4 579.5,371.8 580.5,367.2 581.5,362.6 582.5,358.0 583.5,353.4 584.5,349.9 585.5,346.6 586.5,343.2 587.5,339.9 588.5,336.6 589.5,333.3 590.5,330.0 591.5,326.7 592.5,323.3 593.5,319.3 594.5,315.3 595.5,311.4 596.5,308.1 597.5,304.9 598.5,302.5 599.5,300.6 600.5,298.7 601.5,297.1 602.5,295.5 603.5,293.9 604.5,292.3 605.5,290.1 606.5,287.6 607.5,285.1 608.5,282.6 609.5,280.1 610.5,278.7 611.5,278.0 612.5,277.2 613.5,276.4 614.5,275.6 615.5,274.9 616.5,274.4 617.5,273.9 618.5,273.4 619.5,272.9 620.5,272.5 621.5,272.5 622.5,272.5 623.5,272.5 624.5,272.5 625.5,272.5 626.5,272.5 627.5,272.5 628.5,272.5 629.5,272.5 630.5,274.2 631.5,276.8 632.5,279.3 633.5,281.5 634.5,283.4 635.5,285.3 636.5,287.2 637.5,289.6 638.5,292.3 639.5,295.1 640.5,298.5 641.5,301.8 642.5,305.2 643.5,308.4 644.5,310.6 645.5,312.9 646.5,315.1 647.5,317.4 648.5,319.6 649.5,321.9 650.5,324.8 651.5,327.7 652.5,330.6 653.5,333.5 654.5,336.5 655.5,340.3 656.5,344.1 657.5,347.9 658.5,351.7 659.5,356.4 660.5,361.2 661.5,366.1 662.5,371.0 663.5,375.9 664.5,380.8 665.5,385.6 666.5,390.5 667.5,395.4 668.5,400.3 669.5,405.2 670.5,410.0 671.5,414.9 672.5,419.8 673.5,424.7 674.5,429.5 675.5,434.4 676.5,439.3 677.5,444.0 678.5,448.6 679.5,453.2 680.5,457.8 681.5,462.4 682.5,467.0 683.5,471.6 684.5,476.2 685.5,480.8 686.5,485.4 687.5,490.0 688.5,494.6 689.5,499.2 690.5,503.8 691.5,508.4 692.5,513.0 693.5,517.6 694.5,522.2 695.5,526.8 696.5,531.1 697.5,534.5 698.5,537.8 699.5,541.1 700.5,544.4 701.5,547.7 702.5,551.0 703.5,554.3 704.5,557.6 705.5,561.3 706.5,565.3 707.5,569.3 708.5,572.9 709.5,576.2 710.5,579.4 711.5,581.3 712.5,583.2 713.5,584.9 714.5,586.5 715.5,588.1 716.5,589.7 717.5,591.4 718.5,593.9 719.5,596.4 720.5,598.9 721.5,601.4 722.5,603.8 723.5,604.6 724.5,605.4 725.5,606.1 726.5,606.9 727.5,607.7 728.5,608.3 729.5,608.8 730.5,609.3 731.5,609.8 732.5,610.2 733.5,610.5 734.5,610.5 735.5,610.5 736.5,610.5 737.5,610.5 738.5,610.5 739.5,610.5 740.5,610.5 741.5,610.5 742.5,610.3 743.5,607.8 744.5,605.2 745.5,602.7 746.5,600.8 747.5,598.8 748.5,596.9 749.5,595.0 750.5,592.3 751.5,589.6 752.5,586.5 753.5,583.2 754.5,579.8 755.5,576.5 756.5,573.7 757.5,571.5 758.5,569.2 759.5,567.0 760.5,564.7 761.5,562.5 762.5,559.9 763.5,557.0 764.5,554.2 765.5,551.3 766.5,548.4 767.5,545.0 768.5,541.2 769.5,537.4 770.5,533.5 771.5,529.6 772.5,524.7 773.5,519.8 774.5,514.9 775.5,510.1 776.5,505.2 777.5,500.3 778.5,495.4 779.5,490.5 780.5,485.7 781.5,480.8 782.5,475.9 783.5,471.0 784.5,466.1 785.5,461.3 786.5,456.4 787.5,451.5 788.5,446.6 789.5,441.7 790.5,437.1 791.5,432.5 792.5,427.9 793.5,423.3 794.5,418.7 795.5,414.1 796.5,409.5 797.5,404.9 798.5,400.3 799.5,395.7 800.5,391.1 801.5,386.5 802.5,381.9 803.5,377.3 804.5,372.7 805.5,368.1 806.5,363.5 807.5,358.9 808.5,354.3 809.5,350.5 810.5,347.2 811.5,343.9 812.5,340.6 813.5,337.2 814.5,333.9 815.5,330.6 816.5,327.4 817.5,324.1 818.5,320.1 819.5,316.1 820.5,312.1 821.5,308.8 822.5,305.5 823.5,302.9 824.5,301.0 825.5,299.0 826.5,297.4 827.5,295.8 828.5,294.2 829.5,292.6 830.5,290.6 831.5,288.1 832.5,285.6 833.5,283.1 834.5,280.6 835.5,278.9 836.5,278.1 837.5,277.3 838.5,276.6 839.5,275.8 840.5,275.0 841.5,274.5 842.5,274.0 843.5,273.5 844.5,273.0 845.5,272.6 846.5,272.5 847.5,272.5 848.5,272.5 849.5,272.5 850.5,272.5 851.5,272.5 852.5,272.5 853.5,272.5 854.5,272.5 855.5,273.7 856.5,276.3 857.5,278.8 858.5,281.1 859.5,283.0 860.5,284.9 861.5,286.8 862.5,289.1 863.5,291.8 864.5,294.5 865.5,297.8 866.5,301.2 867.5,304.5 868.5,307.9 869.5,310.2 870.5,312.4 871.5,314.7 872.5,316.9 873.5,319.1 874.5,321.4 875.5,324.2 876.5,327.1 877.5,330.0 878.5,332.9 879.5,335.8 880.5,339.5 881.5,343.3 882.5,347.2 883.5,351.0 884.5,355.4 885.5,360.3 886.5,365.1 887.5,370.0 888.5,374.9 889.5,379.8 890.5,384.7 891.5,389.5 892.5,394.4 893.5,399.3 894.5,404.2 895.5,409.1 896.5,413.9 897.5,418.8 898.5,423.7 899.5,428.6 900.5,433.4 901.5,438.3 902.5,443.1 903.5,447.7 904.5,452.3 905.5,456.9 906.5,461.5 907.5,466.1 908.5,470.7 909.5,475.3 910.5,479.9 911.5,484.5 912.5,489.1 913.5,493.7 914.5,498.3 915.5,502.9 916.5,507.5 917.5,512.1 918.5,516.7 919.5,521.3 920.5,525.9 921.5,530.5 922.5,533.8 923.5,537.1 924.5,540.4 925.5,543.8 926.5,547.1 927.5,550.4 928.5,553.7 929.5,557.0 930.5,560.5 931.5,564.5 932.5,568.5 933.5,572.2 934.5,575.5 935.5,578.8 936.5,580.9 937.5,582.8 938.5,584.6 939.5,586.2 940.5,587.8 941.5,589.4 942.5,591.0 943.5,593.4 944.5,595.9 945.5,598.4 946.5,600.9 947.5,603.4 948.5,604.4 949.5,605.2 950.5,606.0 951.5,606.8 952.5,607.5 953.5,608.2 954.5,608.7 955.5,609.2 956.5,609.7 957.5,610.1 958.5,610.5 959.5,610.5 960.5,610.5 961.5,610.5 962.5,610.5 963.5,610.5 964.5,610.5 965.5,610.5 966.5,610.5 967.5,610.5 968.5,608.3 969.5,605.7 970.5,603.2 971.5,601.1 972.5,599.2 973.5,597.3 974.5,595.4 975.5,592.8 976.5,590.1 977.5,587.2 978.5,583.8 979.5,580.5 980.5,577.1 981.5,574.2 982.5,571.9 983.5,569.7 984.5,567.4 985.5,565.2 986.5,563.0 987.5,560.5 988.5,557.6 989.5,554.7 990.5,551.9 991.5,549.0 992.5,545.8 993.5,541.9 994.5,538.1 995.5,534.3 996.5,530.5 997.5,525.7 998.5,520.8 999.5,515.9 1000.5,511.0 1001.5,506.1 1002.5,501.3 1003.5,496.4 1004.5,491.5 1005.5,486.6 1006.5,481.8 1007.5,476.9 1008.5,472.0 1009.5,467.1 1010.5,462.2 1011.5,457.4 1012.5,452.5 1013.5,447.6 1014.5,442.7 1015.5,438.0 1016.5,433.4 1017.5,428.8 1018.5,424.2 1019.5,419.6 1020.5,415.0 1021.5,410.4 1022.5,405.8 1023.5,401.2 1024.5,396.6 1025.5,392.0 1026.5,387.4 1027.5,382.8 1028.5,378.2 1029.5,373.6 1030.5,369.0 1031.5,364.4 1032.5,359.8 1033.5,355.2 1034.5,351.2 1035.5,347.9 1036.5,344.6 1037.5,341.2 1038.5,337.9 1039.5,334.6 1040.5,331.3 1041.5,328.0 1042.5,324.7 1043.5,320.9 1044.5,316.9 1045.5,312.9 1046.5,309.5 1047.5,306.2 1048.5,303.3 1049.5,301.3 1050.5,299.4 1051.5,297.7 1052.5,296.1 1053.5,294.5 1054.5,292.9 1055.5,291.1 1056.5,288.6 1057.5,286.1 1058.5,283.6 1059.5,281.1 1060.5,279.1 1061.5,278.3 1062.5,277.5 1063.5,276.7 1064.5,275.9 1065.5,275.1 1066.5,274.6 1067.5,274.1 1068.5,273.6 1069.5,273.1 1070.5,272.7 1071.5,272.5 1072.5,272.5 1073.5,272.5 1074.5,272.5 1075.5,272.5 1076.5,272.5 1077.5,272.5 1078.5,272.5 1079.5,272.5 1080.5,273.2 1081.5,275.7 1082.5,278.3 1083.5,280.7 1084.5,282.6 1085.5,284.5 1086.5,286.5 1087.5,288.6 1088.5,291.3 1089.5,293.9 1090.5,297.1 1091.5,300.5 1092.5,303.9 1093.5,307.2 1094.5,309.7 1095.5,312.0 1096.5,314.2 1097.5,316.5 1098.5,318.7 1099.5,320.9 1100.5,323.7 1101.5,326.5 1102.5,329.4 1103.5,332.3 1104.5,335.2 1105.5,338.8 1106.5,342.6 1107.5,346.4 1108.5,350.2 1109.5,354.4 1110.5,359.3 1111.5,364.2 1112.5,369.0 1113.5,373.9 1114.5,378.8 1115.5,383.7 1116.5,388.6 1117.5,393.4 1118.5,398.3 1119.5,403.2 1120.5,408.1 1121.5,413.0 1122.5,417.8 1123.5,422.7 1124.5,427.6 1125.5,432.5 1126.5,437.4 1127.5,442.2 1128.5,446.8 1129.5,451.4 1130.5,456.0 1131.5,460.6 1132.5,465.2 1133.5,469.8 1134.5,474.4 1135.5,479.0 1136.5,483.6 1137.5,488.2 1138.5,492.8 1139.5,497.4 1140.5,502.0 1141.5,506.6 1142.5,511.2 1143.5,515.8 1144.5,520.4 1145.5,525.0 1146.5,529.6 1147.5,533.1 1148.5,536.4 1149.5,539.8 1150.5,543.1 1151.5,546.4 1152.5,549.7 1153.5,553.0 1154.5,556.3 1155.5,559.7 1156.5,563.7 1157.5,567.7 1158.5,571.6 1159.5,574.9 1160.5,578.1 1161.5,580.5 1162.5,582.4 1163.5,584.3 1164.5,585.9 1165.5,587.5 1166.5,589.1 1167.5,590.7 1168.5,592.9 1169.5,595.4 1170.5,597.9 1171.5,600.4 1172.5,602.9 1173.5,604.3 1174.5,605.0 1175.5,605.8 1176.5,606.6 1177.5,607.4 1178.5,608.1 1179.5,608.6 1180.5,609.1 1181.5,609.6 1182.5,610.1 1183.5,610.5 1184.5,610.5 1185.5,610.5 1186.5,610.5 1187.5,610.5 1188.5,610.5 1189.5,610.5 1190.5,610.5 1191.5,610.5 1192.5,610.5 1193.5,608.8 1194.5,606.2 1195.5,603.7 1196.5,601.5 1197.5,599.6 1198.5,597.7 1199.5,595.8 1200.5,593.4 1201.5,590.7 1202.5,587.9 1203.5,584.5 1204.4,581.5"/>
<polyline fill="none" stroke="#3461c4" stroke-width="1.85" stroke-linejoin="round" points="76.5,446.3 77.5,450.9 78.5,455.5 79.5,460.1 80.5,464.7 81.5,469.3 82.5,473.9 83.5,478.5 84.5,483.1 85.5,487.7 86.5,492.3 87.5,496.9 88.5,501.5 89.5,506.1 90.5,510.7 91.5,515.3 92.5,519.9 93.5,524.5 94.5,529.1 95.5,532.8 96.5,536.1 97.5,539.4 98.5,542.8 99.5,546.1 100.5,549.4 101.5,552.7 102.5,556.0 103.5,559.3 104.5,563.3 105.5,567.3 106.5,571.3 107.5,574.5 108.5,577.8 109.5,580.3 110.5,582.2 111.5,584.1 112.5,585.7 113.5,587.3 114.5,588.9 115.5,590.5 116.5,592.6 117.5,595.1 118.5,597.6 119.5,600.1 120.5,602.6 121.5,604.2 122.5,605.0 123.5,605.7 124.5,606.5 125.5,607.3 126.5,608.1 127.5,608.6 128.5,609.0 129.5,609.5 130.5,610.0 131.5,610.5 132.5,610.5 133.5,610.5 134.5,610.5 135.5,610.5 136.5,610.5 137.5,610.5 138.5,610.5 139.5,610.5 140.5,610.5 141.5,609.1 142.5,606.5 143.5,603.9 144.5,601.7 145.5,599.8 146.5,597.9 147.5,596.0 148.5,593.6 149.5,590.9 150.5,588.2 151.5,584.9 152.5,581.5 153.5,578.1 154.5,574.8 155.5,572.6 156.5,570.3 157.5,568.1 158.5,565.9 159.5,563.6 160.5,561.4 161.5,558.5 162.5,555.6 163.5,552.7 164.5,549.8 165.5,546.9 166.5,543.1 167.5,539.3 168.5,535.5 169.5,531.6 170.5,527.1 171.5,522.2 172.5,517.4 173.5,512.5 174.5,507.6 175.5,502.7 176.5,497.9 177.5,493.0 178.5,488.1 179.5,483.2 180.5,478.3 181.5,473.5 182.5,468.6 183.5,463.7 184.5,458.8 185.5,453.9 186.5,449.1 187.5,444.2 188.5,439.4 189.5,434.8 190.5,430.2 191.5,425.6 192.5,421.0 193.5,416.4 194.5,411.8 195.5,407.2 196.5,402.6 197.5,398.0 198.5,393.4 199.5,388.8 200.5,384.2 201.5,379.6 202.5,375.0 203.5,370.4 204.5,365.8 205.5,361.2 206.5,356.6 207.5,352.2 208.5,348.9 209.5,345.6 210.5,342.2 211.5,338.9 212.5,335.6 213.5,332.3 214.5,329.0 215.5,325.7 216.5,322.1 217.5,318.1 218.5,314.1 219.5,310.4 220.5,307.2 221.5,303.9 222.5,301.9 223.5,300.0 224.5,298.2 225.5,296.6 226.5,295.0 227.5,293.4 228.5,291.8 229.5,289.4 230.5,286.9 231.5,284.4 232.5,281.9 233.5,279.4 234.5,278.5 235.5,277.7 236.5,276.9 237.5,276.2 238.5,275.4 239.5,274.7 240.5,274.2 241.5,273.8 242.5,273.3 243.5,272.8 244.5,272.5 245.5,272.5 246.5,272.5 247.5,272.5 248.5,272.5 249.5,272.5 250.5,272.5 251.5,272.5 252.5,272.5 253.5,272.5 254.5,275.0 255.5,277.5 256.5,280.1 257.5,282.0 258.5,284.0 259.5,285.9 260.5,287.8 261.5,290.5 262.5,293.1 263.5,296.1 264.5,299.5 265.5,302.9 266.5,306.2 267.5,309.1 268.5,311.3 269.5,313.5 270.5,315.8 271.5,318.0 272.5,320.3 273.5,322.8 274.5,325.7 275.5,328.6 276.5,331.4 277.5,334.3 278.5,337.6 279.5,341.4 280.5,345.3 281.5,349.1 282.5,352.9 283.5,357.8 284.5,362.7 285.5,367.6 286.5,372.5 287.5,377.3 288.5,382.2 289.5,387.1 290.5,392.0 291.5,396.9 292.5,401.7 293.5,406.6 294.5,411.5 295.5,416.4 296.5,421.3 297.5,426.1 298.5,431.0 299.5,435.9 300.5,440.8 301.5,445.4 302.5,450.0 303.5,454.6 304.5,459.2 305.5,463.8 306.5,468.4 307.5,473.0 308.5,477.6 309.5,482.2 310.5,486.8 311.5,491.4 312.5,496.0 313.5,500.6 314.5,505.2 315.5,509.8 316.5,514.4 317.5,519.0 318.5,523.6 319.5,528.2 320.5,532.1 321.5,535.5 322.5,538.8 323.5,542.1 324.5,545.4 325.5,548.7 326.5,552.0 327.5,555.3 328.5,558.6 329.5,562.5 330.5,566.5 331.5,570.5 332.5,573.9 333.5,577.1 334.5,579.9 335.5,581.9 336.5,583.8 337.5,585.4 338.5,587.0 339.5,588.6 340.5,590.2 341.5,592.1 342.5,594.6 343.5,597.1 344.5,599.6 345.5,602.1 346.5,604.0 347.5,604.8 348.5,605.6 349.5,606.4 350.5,607.2 351.5,607.9 352.5,608.5 353.5,608.9 354.5,609.4 355.5,609.9 356.5,610.4 357.5,610.5 358.5,610.5 359.5,610.5 360.5,610.5 361.5,610.5 362.5,610.5 363.5,610.5 364.5,610.5 365.5,610.5 366.5,609.6 367.5,607.0 368.5,604.4 369.5,602.1 370.5,600.2 371.5,598.3 372.5,596.3 373.5,594.2 374.5,591.5 375.5,588.8 376.5,585.5 377.5,582.2 378.5,578.8 379.5,575.4 380.5,573.0 381.5,570.8 382.5,568.6 383.5,566.3 384.5,564.1 385.5,561.8 386.5,559.1 387.5,556.2 388.5,553.3 389.5,550.4 390.5,547.5 391.5,543.9 392.5,540.0 393.5,536.2 394.5,532.4 395.5,528.1 396.5,523.2 397.5,518.3 398.5,513.5 399.5,508.6 400.5,503.7 401.5,498.8 402.5,494.0 403.5,489.1 404.5,484.2 405.5,479.3 406.5,474.4 407.5,469.6 408.5,464.7 409.5,459.8 410.5,454.9 411.0,452.5 411.6,450.0 414.1,440.0 416.6,439.4 418.0,435.6 419.1,437.2 420.3,433.9 421.3,423.1 422.1,426.4 423.3,415.6 424.1,419.0 424.9,415.6 426.6,406.5 428.3,398.2 429.4,390.7 430.4,394.8 431.6,404.0 432.4,381.5 434.1,380.7 434.9,396.5 435.7,416.5 437.9,436.4 440.7,440.6 442.9,441.1 443.6,375.7 444.6,379.9 445.4,409.8 446.6,428.1 449.1,436.4 450.7,438.9 451.5,436.4 452.4,340.8 453.5,396.5 454.9,428.1 457.4,436.4 459.9,440.6 463.2,441.1 464.8,442.7 571.6,442.7 574.2,549.7 576.0,474.7 577.6,559.0 578.7,523.4 580.3,566.8 582.1,610.3 584.7,611.6 586.8,612.1 590.5,478.7 592.9,551.0 596.1,460.3 597.1,549.7 599.7,461.6 601.8,449.7 604.5,443.2 606.3,442.7 613.5,442.7 615.3,441.1 616.6,441.4 618.0,511.7 619.5,497.3 622.0,471.2 623.4,514.4 625.2,508.1 627.0,499.1 629.4,463.1 631.0,452.3 633.3,447.7 635.1,443.6 636.9,446.5 638.7,445.0 640.5,442.3 642.9,438.7 644.1,414.4 645.0,412.6 646.0,406.8 647.0,402.2 648.0,397.6 649.0,393.0 650.0,388.4 651.0,383.8 652.0,379.2 653.0,374.6 654.0,370.0 655.0,365.4 656.0,360.8 657.0,356.2 658.0,351.9 659.0,348.5 660.0,345.2 661.0,341.9 662.0,338.6 663.0,335.3 664.0,332.0 665.0,328.7 666.0,325.4 667.0,321.7 668.0,317.7 669.0,313.7 670.0,310.1 671.0,306.8 672.0,303.6 673.0,301.7 674.0,299.8 675.0,298.1 676.0,296.5 677.0,294.9 678.0,293.3 679.0,291.6 680.0,289.1 681.0,286.6 682.0,284.1 683.0,281.6 684.0,279.2 685.0,278.4 686.0,277.6 687.0,276.9 688.0,276.1 689.0,275.3 690.0,274.7 691.0,274.2 692.0,273.7 693.0,273.2 694.0,272.8 695.0,272.5 696.0,272.5 697.0,272.5 698.0,272.5 699.0,272.5 700.0,272.5 701.0,272.5 702.0,272.5 703.0,272.5 704.0,272.7 705.0,275.2 706.0,277.8 707.0,280.3 708.0,282.2 709.0,284.2 710.0,286.1 711.0,288.0 712.0,290.7 713.0,293.4 714.0,296.5 715.0,299.8 716.0,303.2 717.0,306.5 718.0,309.3 719.0,311.5 720.0,313.8 721.0,316.0 722.0,318.3 723.0,320.5 724.0,323.1 725.0,326.0 726.0,328.8 727.0,331.7 728.0,334.6 729.0,338.0 730.0,341.8 731.0,345.6 732.0,349.5 733.0,353.4 734.0,358.3 735.0,363.2 736.0,368.1 737.0,372.9 738.0,377.8 739.0,382.7 740.0,387.6 741.0,392.5 742.0,397.3 743.0,402.2 744.0,407.1 745.0,412.0 746.0,416.9 747.0,421.7 748.0,426.6 749.0,431.5 750.0,436.4 751.0,441.3 752.0,445.9 753.0,450.5 754.0,455.1 755.0,459.7 756.0,464.3 757.0,468.9 758.0,473.5 759.0,478.1 760.0,482.7 761.0,487.3 762.0,491.9 763.0,496.5 764.0,501.1 765.0,505.7 766.0,510.3 767.0,514.9 768.0,519.5 769.0,524.1 770.0,528.7 771.0,532.5 772.0,535.8 773.0,539.1 774.0,542.4 775.0,545.8 776.0,549.1 777.0,552.4 778.0,555.6 779.0,558.9 780.0,562.9 781.0,566.9 782.0,570.9 783.0,574.2 784.0,577.5 785.0,580.1 786.0,582.0 787.0,584.0 788.0,585.6 789.0,587.2 790.0,588.8 791.0,590.4 792.0,592.4 793.0,594.9 794.0,597.4 795.0,599.9 796.0,602.4 797.0,604.1 798.0,604.9 799.0,605.7 800.0,606.4 801.0,607.2 802.0,608.0 803.0,608.5 804.0,609.0 805.0,609.5 806.0,610.0 807.0,610.4 808.0,610.5 809.0,610.5 810.0,610.5 811.0,610.5 812.0,610.5 813.0,610.5 814.0,610.5 815.0,610.5 816.0,610.5 817.0,609.3 818.0,606.7 819.0,604.2 820.0,601.9 821.0,600.0 822.0,598.1 823.0,596.2 824.0,593.9 825.0,591.2 826.0,588.5 827.0,585.2 828.0,581.8 829.0,578.5 830.0,575.1 831.0,572.8 832.0,570.6 833.0,568.3 834.0,566.1 835.0,563.9 836.0,561.6 837.0,558.8 838.0,555.9 839.0,553.0 840.0,550.1 841.0,547.2 842.0,543.5 843.0,539.7 844.0,535.8 845.0,532.0 846.0,527.6 847.0,522.7 848.0,517.9 849.0,513.0 850.0,508.1 851.0,503.2 852.0,498.3 853.0,493.5 854.0,488.6 855.0,483.7 856.0,478.8 857.0,473.9 858.0,469.1 859.0,464.2 860.0,459.3 861.0,454.4 862.0,449.6 863.0,444.7 864.0,439.9 865.0,435.3 866.0,430.7 867.0,426.1 868.0,421.5 869.0,416.9 870.0,412.3 871.0,407.7 872.0,403.1 873.0,398.5 874.0,393.9 875.0,389.3 876.0,384.7 877.0,380.1 878.0,375.5 879.0,370.9 880.0,366.3 881.0,361.7 882.0,357.1 883.0,352.5 884.0,349.2 885.0,345.9 886.0,342.6 887.0,339.2 888.0,335.9 889.0,332.6 890.0,329.3 891.0,326.0 892.0,322.5 893.0,318.5 894.0,314.5 895.0,310.8 896.0,307.5 897.0,304.2 898.0,302.1 899.0,300.2 900.0,298.4 901.0,296.8 902.0,295.2 903.0,293.6 904.0,292.0 905.0,289.6 906.0,287.1 907.0,284.6 908.0,282.1 909.0,279.6 910.0,278.6 911.0,277.8 912.0,277.0 913.0,276.2 914.0,275.5 915.0,274.8 916.0,274.3 917.0,273.8 918.0,273.3 919.0,272.9 920.0,272.5 921.0,272.5 922.0,272.5 923.0,272.5 924.0,272.5 925.0,272.5 926.0,272.5 927.0,272.5 928.0,272.5 929.0,272.5 930.0,274.7 931.0,277.3 932.0,279.8 933.0,281.9 934.0,283.8 935.0,285.7 936.0,287.6 937.0,290.2 938.0,292.9 939.0,295.8 940.0,299.2 941.0,302.5 941.6,303.0 943.8,321.0 945.7,354.0 947.1,369.4 949.3,326.5 952.6,334.8 955.4,343.0 956.8,370.8 958.7,420.7 960.4,395.7 962.3,409.6 963.7,380.5 965.9,387.4 967.9,415.0 970.6,437.3 974.8,442.3 979.0,442.8 981.2,460.0 982.0,468.0 983.0,472.6 984.0,477.2 985.0,481.8 986.0,486.4 987.0,491.0 988.0,495.6 989.0,500.2 990.0,504.8 991.0,509.4 992.0,514.0 993.0,518.6 994.0,523.2 995.0,527.8 996.0,531.8 997.0,535.1 998.0,538.4 999.0,541.8 1000.0,545.1 1001.0,548.4 1002.0,551.7 1003.0,555.0 1004.0,558.3 1005.0,562.1 1006.0,566.1 1007.0,570.1 1008.0,573.5 1009.0,576.8 1010.0,579.7 1011.0,581.7 1012.0,583.6 1013.0,585.3 1014.0,586.9 1015.0,588.5 1016.0,590.1 1017.0,591.9 1018.0,594.4 1019.0,596.9 1020.0,599.4 1021.0,601.9 1022.0,603.9 1023.0,604.7 1024.0,605.5 1025.0,606.3 1026.0,607.1 1027.0,607.9 1028.0,608.4 1029.0,608.9 1030.0,609.4 1031.0,609.9 1032.0,610.3 1033.0,610.5 1034.0,610.5 1035.0,610.5 1036.0,610.5 1037.0,610.5 1038.0,610.5 1039.0,610.5 1040.0,610.5 1041.0,610.5 1042.0,609.8 1043.0,607.3 1044.0,604.7 1045.0,602.3 1046.0,600.4 1047.0,598.5 1048.0,596.5 1049.0,594.4 1050.0,591.7 1051.0,589.1 1052.0,585.9 1053.0,582.5 1054.0,579.1 1055.0,575.8 1056.0,573.3 1057.0,571.0 1058.0,568.8 1059.0,566.5 1060.0,564.3 1061.0,562.1 1062.0,559.3 1063.0,556.5 1064.0,553.6 1065.0,550.7 1066.0,547.8 1067.0,544.2 1068.0,540.4 1069.0,536.6 1070.0,532.8 1071.0,528.6 1072.0,523.7 1073.0,518.8 1074.0,514.0 1075.0,509.1 1076.0,504.2 1077.0,499.3 1078.0,494.4 1079.0,489.6 1080.0,484.7 1081.0,479.8 1082.0,474.9 1083.0,470.0 1084.0,465.2 1085.0,460.3 1086.0,455.4 1087.0,450.5 1088.0,445.6 1089.0,440.8 1090.0,436.2 1091.0,431.6 1092.0,427.0 1093.0,422.4 1094.0,417.8 1095.0,413.2 1096.0,408.6 1097.0,404.0 1098.0,399.4 1099.0,394.8 1100.0,390.2 1101.0,385.6 1102.0,381.0 1103.0,376.4 1104.0,371.8 1105.0,367.2 1106.0,362.6 1107.0,358.0 1108.0,353.4 1109.0,349.9 1110.0,346.6 1111.0,343.2 1112.0,339.9 1113.0,336.6 1114.0,333.3 1115.0,330.0 1116.0,326.7 1117.0,323.3 1118.0,319.3 1119.0,315.3 1120.0,311.4 1121.0,308.1 1122.0,304.9 1123.0,302.5 1124.0,300.6 1125.0,298.7 1126.0,297.1 1127.0,295.5 1128.0,293.9 1129.0,292.3 1130.0,290.1 1131.0,287.6 1132.0,285.1 1133.0,282.6 1134.0,280.1 1135.0,278.7 1136.0,278.0 1137.0,277.2 1138.0,276.4 1139.0,275.6 1140.0,274.9 1141.0,274.4 1142.0,273.9 1143.0,273.4 1144.0,272.9 1145.0,272.5 1146.0,272.5 1147.0,272.5 1148.0,272.5 1149.0,272.5 1150.0,272.5 1151.0,272.5 1152.0,272.5 1153.0,272.5 1154.0,272.5 1155.0,274.2 1156.0,276.8 1157.0,279.3 1158.0,281.5 1159.0,283.4 1160.0,285.3 1161.0,287.2 1162.0,289.6 1163.0,292.3 1164.0,295.1 1165.0,298.5 1166.0,301.8 1167.0,305.2 1168.0,308.4 1169.0,310.6 1170.0,312.9 1171.0,315.1 1172.0,317.4 1173.0,319.6 1174.0,321.9 1175.0,324.8 1176.0,327.7 1177.0,330.6 1178.0,333.5 1179.0,336.5 1180.0,340.3 1181.0,344.1 1182.0,347.9 1183.0,351.7 1184.0,356.4 1185.0,361.2 1186.0,366.1 1187.0,371.0 1188.0,375.9 1189.0,380.8 1190.0,385.6 1191.0,390.5 1192.0,395.4 1193.0,400.3 1194.0,405.2 1195.0,410.0 1196.0,414.9 1197.0,419.8 1198.0,424.7 1199.0,429.5 1200.0,434.4 1201.0,439.3 1202.0,444.0 1203.0,448.6 1204.0,453.2 1204.4,455.1"/>
<line x1="526.85" y1="277" x2="526.85" y2="630.3" stroke="#e00000" stroke-width="2.5"/>
<text transform="translate(527.10,271.7) scale(0.79,1.0)" x="0" y="0" fill="#e00000" font-family="Liberation Sans, sans-serif" font-size="25.6" text-anchor="middle">S</text>
<line x1="864.40" y1="277" x2="864.40" y2="630.3" stroke="#e00000" stroke-width="2.5"/>
<text transform="translate(865.90,271.7) scale(0.74,1.0)" x="0" y="0" fill="#e00000" font-family="Liberation Sans, sans-serif" font-size="25.6" text-anchor="middle">E</text>
<text x="72.4" y="300.9" fill="#262626" font-family="Liberation Sans, sans-serif" font-size="9.5" text-anchor="end">300</text>
<text x="72.4" y="348.9" fill="#262626" font-family="Liberation Sans, sans-serif" font-size="9.5" text-anchor="end">200</text>
<text x="72.4" y="396.9" fill="#262626" font-family="Liberation Sans, sans-serif" font-size="9.5" text-anchor="end">100</text>
<text x="72.4" y="444.9" fill="#262626" font-family="Liberation Sans, sans-serif" font-size="9.5" text-anchor="end">0</text>
<text x="72.4" y="492.9" fill="#262626" font-family="Liberation Sans, sans-serif" font-size="9.5" text-anchor="end">-100</text>
<text x="72.4" y="540.9" fill="#262626" font-family="Liberation Sans, sans-serif" font-size="9.5" text-anchor="end">-200</text>
<text x="72.4" y="588.9" fill="#262626" font-family="Liberation Sans, sans-serif" font-size="9.5" text-anchor="end">-300</text>
<text x="76.5" y="642" fill="#262626" font-family="Liberation Sans, sans-serif" font-size="9.5" text-anchor="middle">0</text>
<text x="185.5" y="642" fill="#262626" font-family="Liberation Sans, sans-serif" font-size="9.5" text-anchor="middle">10</text>
<text x="296.5" y="642" fill="#262626" font-family="Liberation Sans, sans-serif" font-size="9.5" text-anchor="middle">20</text>
<text x="405.5" y="642" fill="#262626" font-family="Liberation Sans, sans-serif" font-size="9.5" text-anchor="middle">29</text>
<text x="516.5" y="642" fill="#262626" font-family="Liberation Sans, sans-serif" font-size="9.5" text-anchor="middle">39</text>
<text x="625.5" y="642" fill="#262626" font-family="Liberation Sans, sans-serif" font-size="9.5" text-anchor="middle">49</text>
<text x="735.5" y="642" fill="#262626" font-family="Liberation Sans, sans-serif" font-size="9.5" text-anchor="middle">59</text>
<text x="845.5" y="642" fill="#262626" font-family="Liberation Sans, sans-serif" font-size="9.5" text-anchor="middle">68</text>
<text x="955.5" y="642" fill="#262626" font-family="Liberation Sans, sans-serif" font-size="9.5" text-anchor="middle">78</text>
<text x="1065.5" y="642" fill="#262626" font-family="Liberation Sans, sans-serif" font-size="9.5" text-anchor="middle">88</text>
<text x="1175.5" y="642" fill="#262626" font-family="Liberation Sans, sans-serif" font-size="9.5" text-anchor="middle">98</text>
<text x="1218" y="642" fill="#262626" font-family="Liberation Sans, sans-serif" font-size="9.5">[ms]</text>
<text x="53" y="246.2" fill="#1f2937" stroke="#1f2937" stroke-width="0.35" font-family="Liberation Sans, sans-serif" font-size="10.6">U[V]</text>
</svg>

<div class="a" style="left:2px;top:713px;font-size:6.5px;color:#6b7280">0.1.0.319.dev (1.0)</div>
</body></html>
